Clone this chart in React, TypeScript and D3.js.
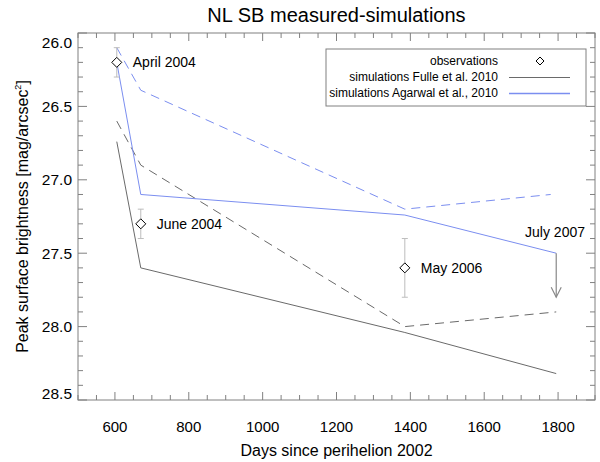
import React from "react";
import * as d3 from "d3";

// observation epochs
const obsLabels = ["April 2004", "June 2004", "May 2006"];
const obsDays = [605, 670, 1385];
const obsMag = [26.2, 27.3, 27.6];
const obsErrLow = [26.1, 27.2, 27.4];
const obsErrHigh = [26.3, 27.4, 27.8];

// upper limit July 2007
const limitLabel = "July 2007";
const limitDay = 1795;
const limitFrom = 27.5;
const limitTo = 27.8;

// simulations
const simDays = [605, 670, 1385, 1795];
const fulleSolid = [26.74, 27.6, 28.04, 28.32];
const fulleDashed = [26.6, 26.9, 28.0, 27.9];
const agarwalSolid = [26.2, 27.1, 27.24, 27.5];
const agarwalDashedDays = [605, 670, 1385, 1780];
const agarwalDashed = [26.1, 26.39, 27.2, 27.1];

const xTicks = [600, 800, 1000, 1200, 1400, 1600, 1800];
const yTicks = [26.0, 26.5, 27.0, 27.5, 28.0, 28.5];

const legendLabels = [
  "observations",
  "simulations Fulle et al. 2010",
  "simulations Agarwal et al., 2010",
];

const W = 600;
const H = 462;
const m = { left: 78, right: 595, top: 33, bottom: 400 };
const FONT = "'Liberation Sans', Arial, Helvetica, sans-serif";
const GREY = "#6a6a6a";
const BLUE = "#7b8ef0";
const FRAME = "#808080";
const ERR = "#bdbdbd";

const App: React.FC = () => {
  const x = d3.scaleLinear().domain([500, 1900]).range([m.left, m.right]);
  const y = d3.scaleLinear().domain([26.0, 28.5]).range([m.top, m.bottom]);

  const line = (days: number[], vals: number[]) =>
    d3
      .line<number>()
      .x((_, i) => x(days[i]))
      .y((d) => y(d))(vals) || "";

  const xMinor = d3.range(500, 1901, 50);
  const yMinor = d3.range(26.0, 28.501, 0.1);

  const diamond = (cx: number, cy: number, r = 5) =>
    `M${cx},${cy - r}L${cx + r},${cy}L${cx},${cy + r}L${cx - r},${cy}Z`;

  const ax = x(limitDay);
  const ay1 = y(limitFrom);
  const ay2 = y(limitTo);

  return (
    <svg width={W} height={H} style={{ position: "absolute", left: 0, top: 0 }}>
      <rect width={W} height={H} fill="#fff" />
      <text x={(m.left + m.right) / 2} y={22} textAnchor="middle" fontFamily={FONT} fontSize={20}>
        NL SB measured-simulations
      </text>

      {/* frame */}
      <rect
        x={m.left}
        y={m.top}
        width={m.right - m.left}
        height={m.bottom - m.top}
        fill="none"
        stroke={FRAME}
        strokeWidth={1}
      />

      {/* x ticks bottom and top */}
      {xMinor.map((d) => {
        const len = d % 200 === 0 ? 8 : 5;
        return (
          <g key={"xt" + d} stroke={FRAME} strokeWidth={1}>
            <line x1={x(d)} x2={x(d)} y1={m.bottom} y2={m.bottom - len} />
            <line x1={x(d)} x2={x(d)} y1={m.top} y2={m.top + len} />
          </g>
        );
      })}
      {xTicks.map((d) => (
        <text key={"xl" + d} x={x(d)} y={432} textAnchor="middle" fontFamily={FONT} fontSize={15}>
          {d}
        </text>
      ))}

      {/* y ticks left and right */}
      {yMinor.map((d, i) => {
        const len = i % 5 === 0 ? 9 : 5;
        return (
          <g key={"yt" + i} stroke={FRAME} strokeWidth={1}>
            <line x1={m.left} x2={m.left + len} y1={y(d)} y2={y(d)} />
            <line x1={m.right} x2={m.right - len} y1={y(d)} y2={y(d)} />
          </g>
        );
      })}
      {yTicks.map((d) => {
        const cy = Math.min(Math.max(y(d), m.top + 10), m.bottom - 6);
        return (
          <text
            key={"yl" + d}
            x={72}
            y={cy}
            dy="0.35em"
            textAnchor="end"
            fontFamily={FONT}
            fontSize={15.5}
          >
            {d.toFixed(1)}
          </text>
        );
      })}

      <text x={(m.left + m.right) / 2} y={456} textAnchor="middle" fontFamily={FONT} fontSize={16}>
        Days since perihelion 2002
      </text>
      <text
        transform={`translate(28,${(m.top + m.bottom) / 2}) rotate(-90)`}
        textAnchor="middle"
        fontFamily={FONT}
        fontSize={16}
      >
        Peak surface brightness [mag/arcsec
        <tspan dy={-7} fontSize={9}>2</tspan>
        <tspan dy={7}>]</tspan>
      </text>

      {/* simulation lines */}
      <path d={line(simDays, fulleSolid)} fill="none" stroke={GREY} strokeWidth={1} />
      <path d={line(simDays, fulleDashed)} fill="none" stroke={GREY} strokeWidth={1} strokeDasharray="9,6" />
      <path d={line(simDays, agarwalSolid)} fill="none" stroke={BLUE} strokeWidth={1} />
      <path
        d={line(agarwalDashedDays, agarwalDashed)}
        fill="none"
        stroke={BLUE}
        strokeWidth={1}
        strokeDasharray="9,6"
      />

      {/* observations */}
      {obsDays.map((d, i) => {
        const cx = x(d);
        return (
          <g key={"ob" + i}>
            <g stroke={ERR} strokeWidth={1}>
              <line x1={cx} x2={cx} y1={y(obsErrLow[i])} y2={y(obsErrHigh[i])} />
              <line x1={cx - 3} x2={cx + 3} y1={y(obsErrLow[i])} y2={y(obsErrLow[i])} />
              <line x1={cx - 3} x2={cx + 3} y1={y(obsErrHigh[i])} y2={y(obsErrHigh[i])} />
            </g>
            <path d={diamond(cx, y(obsMag[i]))} fill="#fff" stroke="#000" strokeWidth={1} />
            <text
              x={cx + 16}
              y={y(obsMag[i])}
              dy="0.35em"
              fontFamily={FONT}
              fontSize={14}
            >
              {obsLabels[i]}
            </text>
          </g>
        );
      })}

      {/* upper limit arrow */}
      <g stroke="#888" strokeWidth={1.2} fill="none">
        <line x1={ax} x2={ax} y1={ay1} y2={ay2} />
        <polyline points={`${ax - 5},${ay2 - 10} ${ax},${ay2} ${ax + 5},${ay2 - 10}`} />
      </g>
      <text x={585} y={ay1 - 16} textAnchor="end" fontFamily={FONT} fontSize={14}>
        {limitLabel}
      </text>

      {/* legend */}
      <rect x={326} y={49} width={260} height={57} fill="#fff" stroke={FRAME} strokeWidth={1} />
      {legendLabels.map((t, i) => (
        <text
          key={"lg" + i}
          x={498}
          y={65 + i * 16}
          textAnchor="end"
          fontFamily={FONT}
          fontSize={12}
        >
          {t}
        </text>
      ))}
      <path d={diamond(540, 61, 4)} fill="#fff" stroke="#000" strokeWidth={1} />
      <line x1={509} x2={570} y1={77.5} y2={77.5} stroke={GREY} strokeWidth={1} />
      <line x1={509} x2={570} y1={93.5} y2={93.5} stroke={BLUE} strokeWidth={1.3} />
    </svg>
  );
};

export default App;
